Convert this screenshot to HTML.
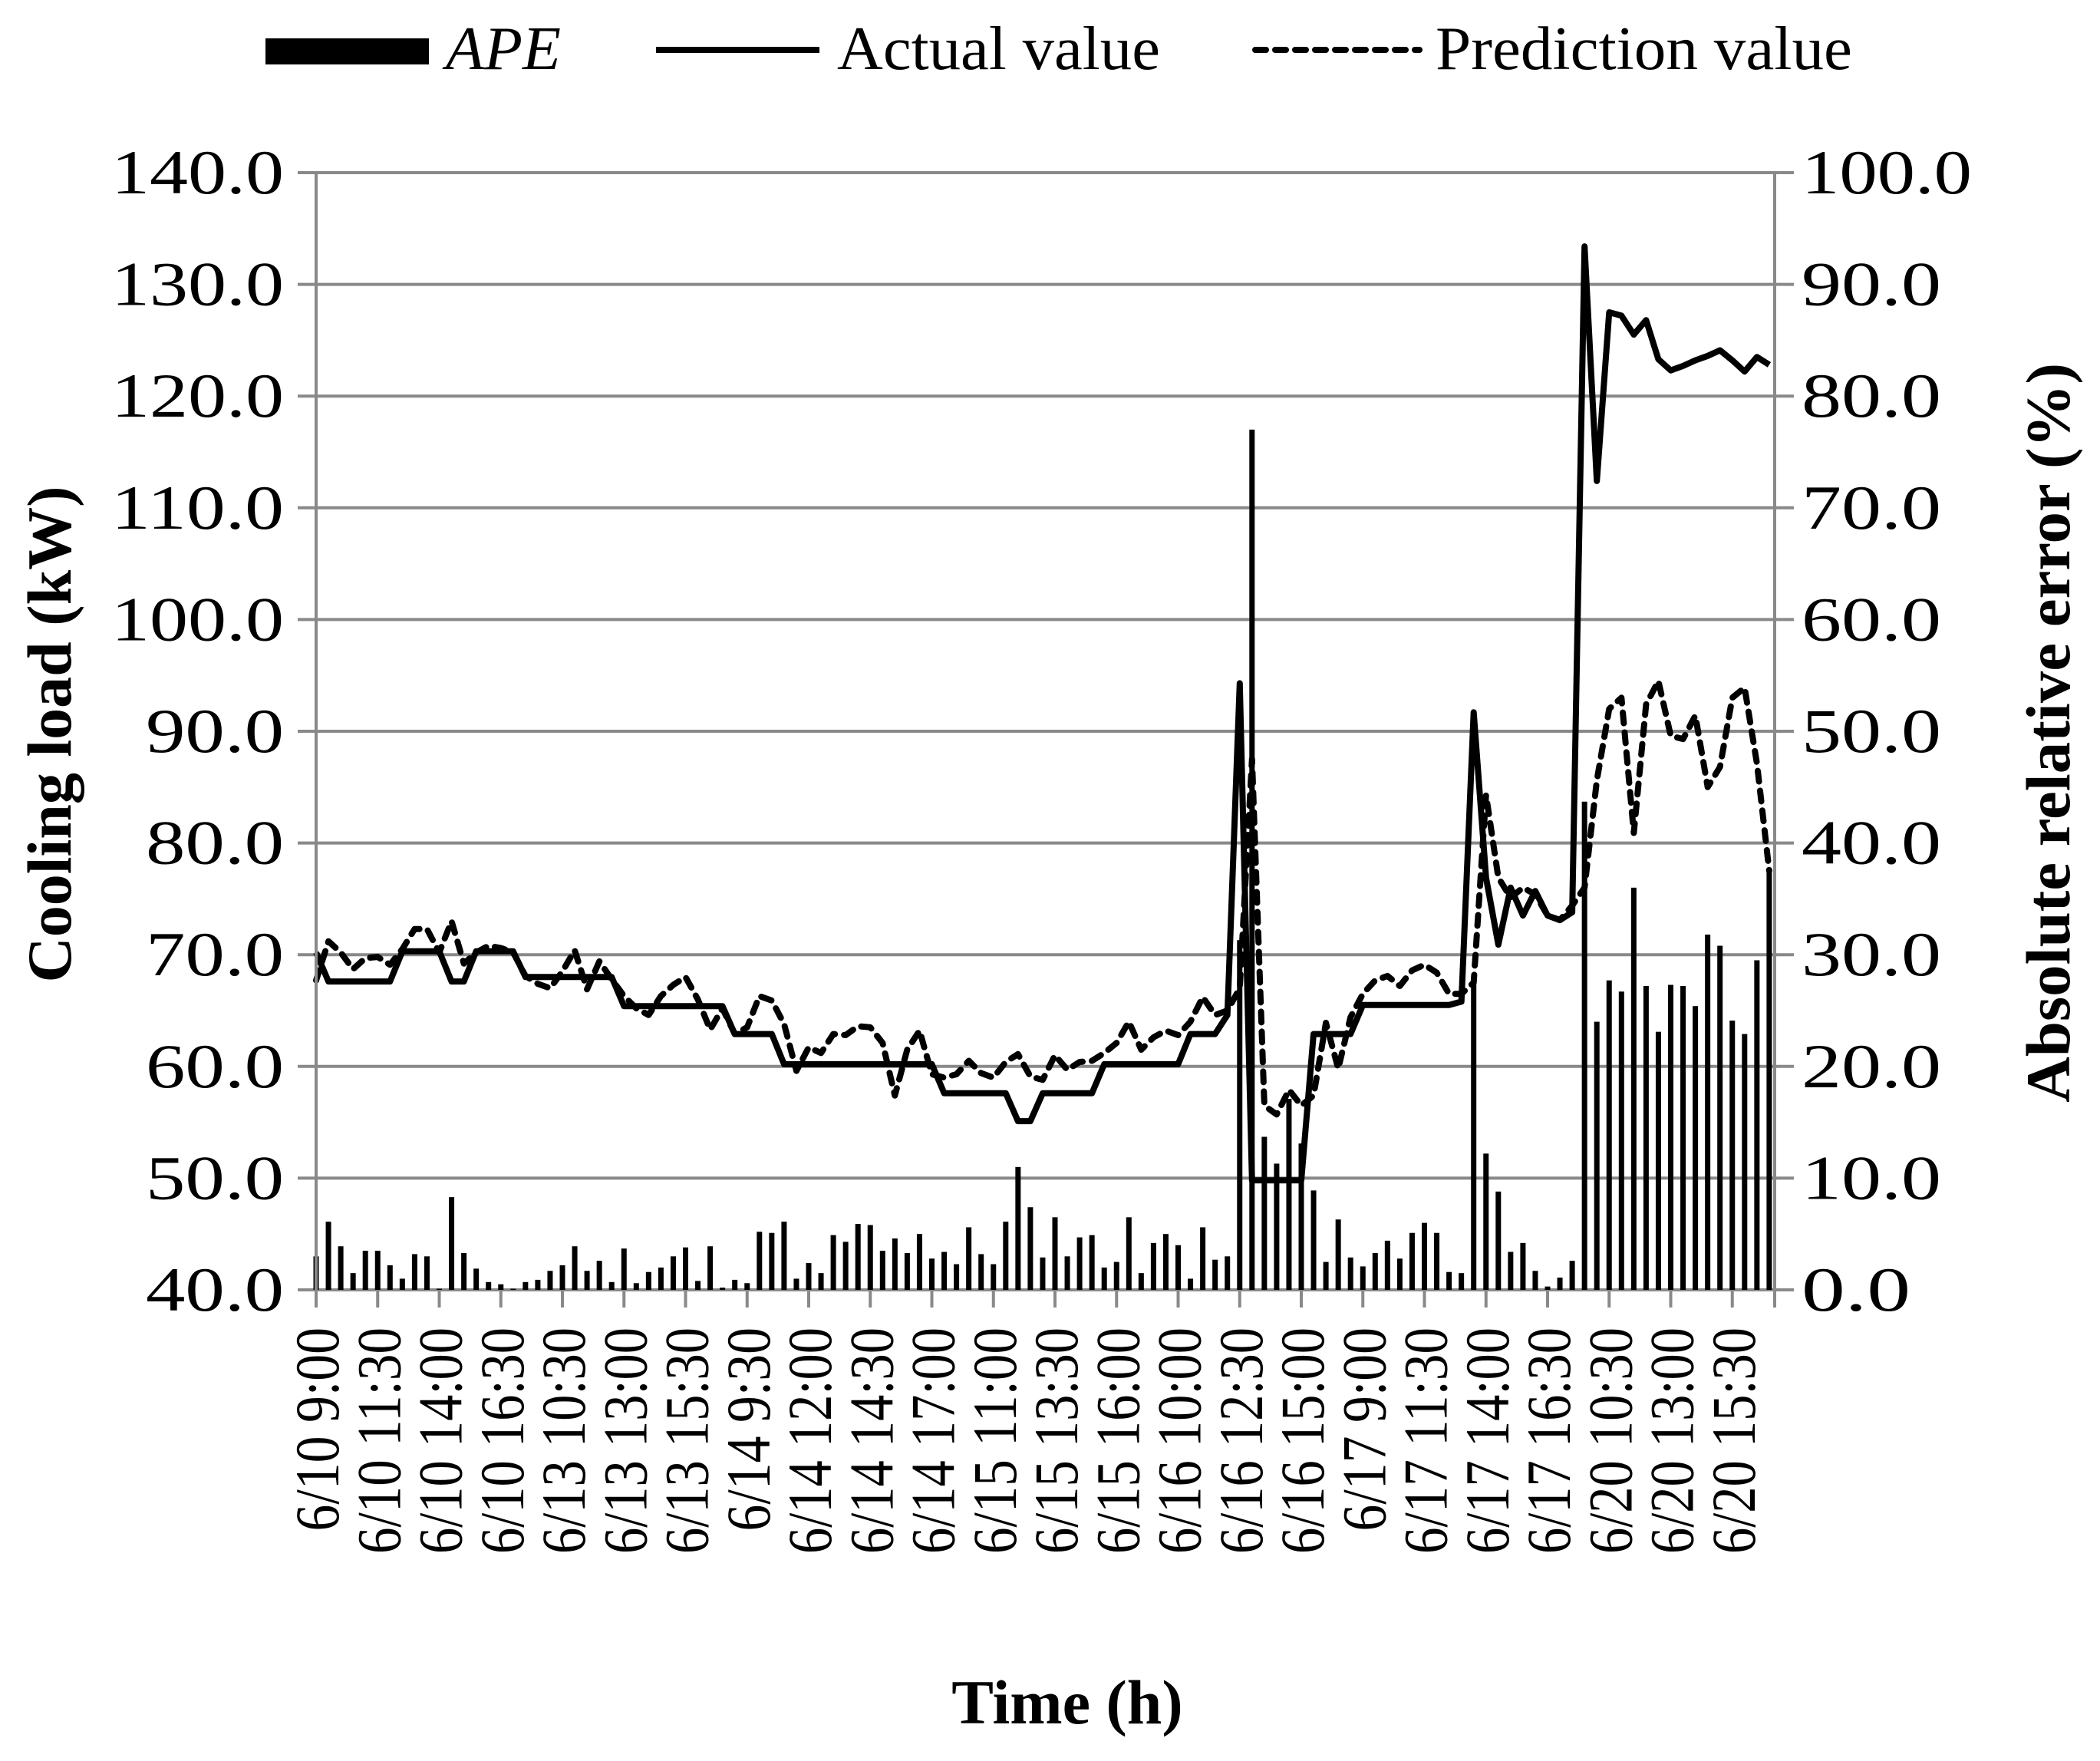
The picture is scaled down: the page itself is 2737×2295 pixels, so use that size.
<!DOCTYPE html>
<html><head><meta charset="utf-8"><style>
html,body{margin:0;padding:0;background:#fff;}
svg{display:block;font-family:"Liberation Serif",serif;}
text{font-family:"Liberation Serif",serif;}
</style></head><body>
<svg id="chart" width="2737" height="2295" viewBox="0 0 2737 2295" xmlns="http://www.w3.org/2000/svg" font-family="Liberation Serif, serif">
<rect x="0" y="0" width="2737" height="2295" fill="#fff"/>
<g id="grid"></g>
<g id="bars"></g>
<g id="lines"></g>
<g id="axes"></g>
<g>
  <rect x="346" y="50" width="213" height="34" fill="#000"/>
  <text x="581" y="90" font-size="80" font-style="italic" textLength="150" lengthAdjust="spacingAndGlyphs">APE</text>
  <line x1="855" y1="65" x2="1068" y2="65" stroke="#000" stroke-width="8"/>
  <text x="1091" y="90" font-size="80" textLength="421" lengthAdjust="spacingAndGlyphs">Actual value</text>
  <line x1="1636" y1="65" x2="1850" y2="65" stroke="#000" stroke-width="8" stroke-dasharray="14,12" stroke-linecap="round"/>
  <text x="1871" y="90" font-size="80" textLength="543" lengthAdjust="spacingAndGlyphs">Prediction value</text>
</g>
<text transform="translate(92,957) rotate(-90)" text-anchor="middle" font-size="82" font-weight="bold" textLength="647" lengthAdjust="spacingAndGlyphs">Cooling load (kW)</text>
<text transform="translate(2697,955) rotate(-90)" text-anchor="middle" font-size="82" font-weight="bold" textLength="964" lengthAdjust="spacingAndGlyphs">Absolute relative error (%)</text>
<text x="1391" y="2246" text-anchor="middle" font-size="82" font-weight="bold">Time (h)</text>
</svg>
<script>
const actual = [70.2,
67.6,67.6,67.6,67.6,67.6,67.6,
70.3,70.3,70.3,70.3,
67.6,67.6,
70.3,70.3,70.3,70.3,
68.0,68.0,68.0,68.0,68.0,68.0,68.0,68.0,
65.4,65.4,65.4,65.4,65.4,65.4,65.4,65.4,65.4,
62.9,62.9,62.9,62.9,
60.2,60.2,60.2,60.2,60.2,60.2,60.2,60.2,60.2,60.2,60.2,60.2,60.2,
57.6,57.6,57.6,57.6,57.6,57.6,
55.1,55.1,
57.6,57.6,57.6,57.6,57.6,
60.2,60.2,60.2,60.2,60.2,60.2,60.2,
62.9,62.9,62.9,
64.6,94.3,
49.8,49.8,49.8,49.8,49.8,
62.9,62.9,62.9,62.9,
65.5,65.5,65.5,65.5,65.5,65.5,65.5,65.5,65.8,
91.7,76.9,70.9,76.0,73.5,75.7,73.5,73.1,73.8,133.4,
112.4,127.5,127.2,125.5,126.8,123.3,122.3,122.7,123.2,123.6,
124.1,123.2,122.2,123.5,122.8];
const prediction = [67.7,71.2,70.2,68.7,69.7,69.8,69.1,70.5,72.3,72.3,70.2,
73.0,69.2,70.2,70.8,70.6,70.2,68.1,67.4,67.0,68.5,
70.4,66.9,69.4,67.8,66.3,65.2,64.6,66.3,67.3,68.0,
66.0,63.3,65.2,62.9,63.5,66.3,65.9,63.8,59.6,61.7,
61.2,62.9,62.8,63.6,63.5,62.1,57.4,61.5,63.2,59.3,
59.0,59.3,60.5,59.4,59.0,60.4,61.1,59.1,58.8,61.0,
59.7,60.4,60.5,61.2,62.1,64.0,61.5,62.6,63.2,62.8,
64.0,66.2,64.6,65.0,67.0,87.5,56.5,55.7,57.9,56.5,
57.4,63.9,59.8,64.4,66.5,67.7,68.1,67.2,68.6,69.1,
68.4,66.5,66.5,67.5,84.3,76.9,75.1,76.0,75.4,73.5,
73.1,74.4,76.0,85.6,92.0,93.0,80.9,92.4,94.5,89.6,
89.3,91.4,85.0,86.8,93.0,93.9,87.1,77.5];
const ape = [3.0,6.1,3.9,1.5,3.5,3.5,2.2,1.0,3.2,3.0,0.1,
8.3,3.3,1.9,0.7,0.5,0.1,0.7,0.9,1.7,2.2,
3.9,1.7,2.6,0.7,3.7,0.6,1.6,2.0,3.0,3.8,
0.8,3.9,0.2,0.9,0.6,5.2,5.1,6.1,1.0,2.4,
1.5,4.9,4.3,5.9,5.8,3.5,4.6,3.3,5.0,2.8,
3.4,2.3,5.6,3.2,2.3,6.1,11.0,7.4,2.9,6.5,
3.0,4.7,4.9,2.0,2.5,6.5,1.5,4.2,5.0,4.0,
1.0,5.6,2.7,3.0,31.3,77.0,13.7,11.3,17.1,13.1,
8.9,2.5,6.3,2.9,2.1,3.3,4.4,2.8,5.1,6.0,
5.1,1.6,1.5,28.0,12.2,8.8,3.4,4.2,1.7,0.3,
1.1,2.6,43.7,24.0,27.7,26.7,36.0,27.2,23.1,27.3,
27.2,25.4,31.8,30.8,24.1,22.9,29.5,37.5];
const xLabels = ["6/10 9:00","6/10 11:30","6/10 14:00","6/10 16:30","6/13 10:30","6/13 13:00","6/13 15:30","6/14 9:30","6/14 12:00","6/14 14:30","6/14 17:00","6/15 11:00","6/15 13:30","6/15 16:00","6/16 10:00","6/16 12:30","6/16 15:00","6/17 9:00","6/17 11:30","6/17 14:00","6/17 16:30","6/20 10:30","6/20 13:00","6/20 15:30"];
const leftTicks = ["40.0","50.0","60.0","70.0","80.0","90.0","100.0","110.0","120.0","130.0","140.0"];
const rightTicks = ["0.0","10.0","20.0","30.0","40.0","50.0","60.0","70.0","80.0","90.0","100.0"];

const NS = "http://www.w3.org/2000/svg";
const PL = 412, PR = 2313, PT = 225, PB = 1681;
const STEP = 16.05, LABEL_EVERY = 5;
const xPos = i => PL + i * STEP;
const yL = v => PB - (v - 40) / 100 * (PB - PT);
const yR = v => PB - v / 100 * (PB - PT);
function mk(tag, attrs, parent) {
  const e = document.createElementNS(NS, tag);
  for (const k in attrs) e.setAttribute(k, attrs[k]);
  parent.appendChild(e);
  return e;
}
const grid = document.getElementById('grid');
const axes = document.getElementById('axes');
const bars = document.getElementById('bars');
const lines = document.getElementById('lines');
const GRAY = "#898989";

leftTicks.forEach((t, i) => {
  const y = yL(40 + i * 10);
  const g = mk('line', {x1: 388, y1: y, x2: PR + 25, y2: y, stroke: GRAY, 'stroke-width': 4}, grid);
  
  
  const tl = mk('text', {x: 370, y: y + 27, 'text-anchor': 'end', 'font-size': 82, textLength: 45 * t.length, lengthAdjust: 'spacingAndGlyphs'}, axes);
  tl.textContent = t;
  
  
});
rightTicks.forEach((t, i) => {
  const y = yR(i * 10);
  const tl = mk('text', {x: 2348, y: y + 27, 'font-size': 82, textLength: 22 + 40 * t.length, lengthAdjust: 'spacingAndGlyphs'}, axes);
  tl.textContent = t;
  
  
});
const la = mk('line', {x1: PL, y1: PT, x2: PL, y2: PB + 23, stroke: GRAY, 'stroke-width': 4}, axes);


const ra = mk('line', {x1: PR, y1: PT, x2: PR, y2: PB, stroke: GRAY, 'stroke-width': 4}, axes);



for (let m = 0; m * LABEL_EVERY < actual.length; m++) {
  const x = xPos(m * LABEL_EVERY);
  const tk = mk('line', {x1: x, y1: PB, x2: x, y2: PB + 23, stroke: GRAY, 'stroke-width': 4}, axes);
  
  
}
const tkEnd = mk('line', {x1: PR, y1: PB, x2: PR, y2: PB + 23, stroke: GRAY, 'stroke-width': 4}, axes);


xLabels.forEach((t, m) => {
  const x = xPos(m * LABEL_EVERY) + 29;
  const tl = mk('text', {transform: `translate(${x},1730) rotate(-90)`, 'text-anchor': 'end', 'font-size': 82, textLength: 29.5 * t.length, lengthAdjust: 'spacingAndGlyphs'}, axes);
  tl.textContent = t;
  
  
});

ape.forEach((v, i) => {
  const x = xPos(i), y = yR(v);
  const b = mk('rect', {x: x - 3.5, y: y, width: 7, height: PB - y, fill: '#000'}, bars);
  
  
});
const ptsA = actual.map((v, i) => xPos(i).toFixed(1) + ',' + yL(v).toFixed(1)).join(' ');
const ptsP = prediction.map((v, i) => xPos(i).toFixed(1) + ',' + yL(v).toFixed(1)).join(' ');
const lp = mk('polyline', {points: ptsP, fill: 'none', stroke: '#000', 'stroke-width': 8, 'stroke-dasharray': '14,12', 'stroke-linejoin': 'round', 'stroke-linecap': 'round'}, lines);


const lA = mk('polyline', {points: ptsA, fill: 'none', stroke: '#000', 'stroke-width': 8, 'stroke-linejoin': 'round'}, lines);


</script>
</body></html>
